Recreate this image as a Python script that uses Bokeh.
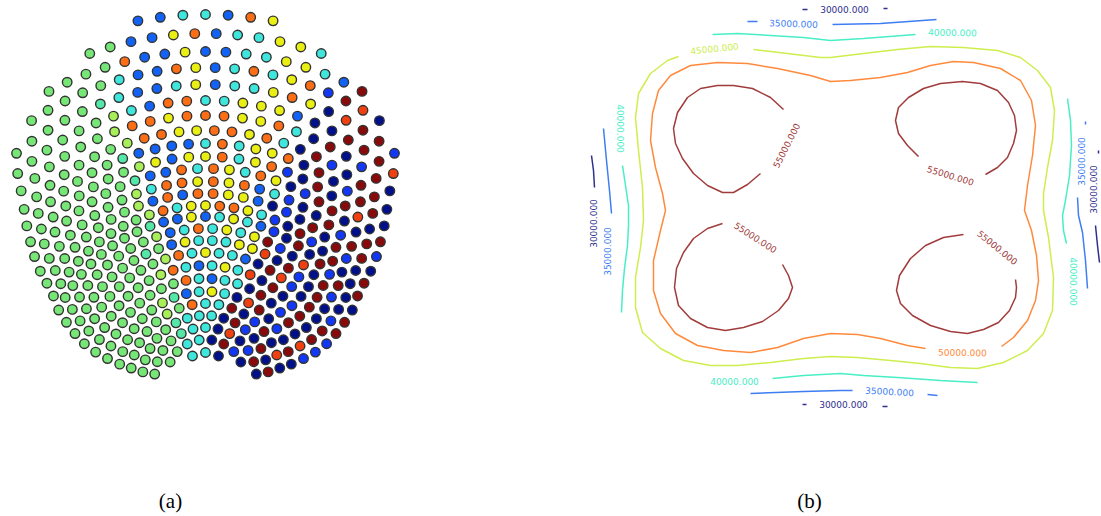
import math
from bokeh.plotting import figure
from bokeh.models import Range1d, ColumnDataSource
from bokeh.core.properties import value
from bokeh.embed import file_html
from bokeh.resources import INLINE

# ---------------- panel (a): fan of coloured nodes ----------------
FAN_CENTRE_X = 205
FAN_CENTRE_Y = 378
RING_RADIUS = [364, 345, 327, 311, 294, 278, 263, 248, 235, 222, 210, 197, 185,
               173, 162, 150, 138, 126, 113, 100, 87, 75, 63, 51, 39, 26]
RING_HALF_SPAN = [10.7, 19.6, 28.6, 34, 40, 42.5, 44.5, 47, 49.5, 52, 54.5, 57, 59,
                  61.5, 65, 68, 71, 74, 76.5, 78.5, 80.5, 82, 84, 85, 65, 30]
RING_COLOURS = [
    "bbccboy",
    "ggbbyobccyyc",
    "ggggobbybbccyycbr",
    "gggggcbboybcocyoBrRn",
    "gggggtcbbcybccyoynRrrB",
    "ggggggGcbooccyyybnnrrrR",
    "ggggggGooyoooyyocnrnBrn",
    "gggggggGooyyooyocnrBnrrn",
    "gggggggtbbbbcocyyonrnBrrn",
    "ggggggggGybyyocyoBnrnrRnr",
    "ggggggggtbbocoycoynBrrnnrB",
    "ggggggggGcooyoyobcBnnrBrrn",
    "ggggggggGbobooyybnBnrnrBnr",
    "gggggggggGocyyooycBnrBnrnnr",
    "gggggggggtbbybcycbBnrnrBrnn",
    "gggggggggGbcocycyrBnRnrBnr",
    "ggggggggtgbycccyyRnrBnrnBr",
    "gggggggggGocyccbnrRBnrnrB",
    "ggggggggGocbcycRnrnBrnrB",
    "gggggggggocbccnrnBrnRB",
    "ggggggGtbcycnRrnBnrn",
    "gggggGgoccrnBrnRn",
    "gggggtcccnrBnrnr",
    "ggggtccnRnBrn",
    "ggccnrBn",
    "ccn",
]
COLOUR_CODES = {
    "g": "#76e676", "G": "#a8ee58", "t": "#54e8a8", "c": "#3ee6dc",
    "b": "#1262f5", "y": "#e9ef12", "o": "#fb6e16", "n": "#00108a",
    "B": "#1238f5", "r": "#880a0a", "R": "#f04010",
}

# ---------------- panel (b): contour lines ----------------
LEVELS = [55000, 50000, 45000, 40000, 35000, 30000]
LEVEL_COLOURS = ["#a13c3c", "#ff8a3d", "#cdee4e", "#48eec6", "#3e7ef2", "#2f2f8e"]

CONTOUR_55000 = [
    [(783, 109), (770, 97), (752, 88), (733, 85), (717, 85), (700, 88), (687, 97), (677, 112),
     (673, 128), (675, 143), (682, 158), (693, 173), (707, 185), (722, 192), (733, 192),
     (747, 184), (760, 173)],
    [(918, 156), (907, 145), (898, 133), (895, 120), (898, 107), (908, 97), (923, 88), (940, 83),
     (962, 81), (980, 83), (997, 90), (1008, 102), (1014, 115), (1016, 130), (1013, 143),
     (1007, 157), (997, 167), (985, 174)],
    [(722, 223), (707, 228), (693, 238), (683, 252), (676, 268), (674, 287), (678, 305),
     (690, 318), (707, 327), (725, 330), (743, 327), (762, 321), (778, 310), (788, 298),
     (792, 287), (788, 275), (782, 264)],
    [(963, 234), (943, 237), (925, 245), (910, 258), (899, 275), (896, 290), (900, 303),
     (912, 315), (930, 325), (950, 331), (967, 333), (983, 329), (998, 322), (1009, 310),
     (1015, 297), (1016, 287), (1015, 279)],
]
CONTOUR_50000 = [
    [(1001, 346), (1013, 337), (1027, 320), (1035, 300), (1038, 280), (1036, 255), (1031, 230),
     (1024, 210), (1027, 185), (1032, 155), (1035, 125), (1031, 100), (1020, 80), (1000, 68),
     (973, 62), (953, 61), (930, 65), (907, 72), (880, 77), (850, 80), (830, 81), (810, 75),
     (777, 68), (747, 63), (717, 62), (690, 65), (670, 75), (658, 90), (652, 113), (650, 140),
     (655, 167), (662, 193), (665, 210), (660, 230), (653, 260), (653, 290), (660, 313),
     (675, 333), (697, 345), (723, 350), (750, 352), (777, 347), (803, 338), (830, 333),
     (857, 334), (880, 338), (907, 345), (925, 348)],
]
CONTOUR_45000 = [
    [(753, 49), (787, 53), (820, 57), (830, 57), (863, 53), (897, 49), (930, 46), (963, 47),
     (997, 50), (1020, 57), (1037, 70), (1050, 87), (1054, 110), (1052, 140), (1047, 167),
     (1043, 193), (1043, 210), (1048, 237), (1053, 277), (1052, 310), (1043, 333), (1027, 350),
     (1003, 362), (977, 368), (950, 367), (920, 363), (890, 360), (857, 357), (830, 356),
     (803, 358), (770, 362), (737, 365), (710, 365), (683, 360), (660, 348), (642, 332),
     (635, 307), (635, 277), (640, 247), (643, 220), (642, 187), (638, 150), (635, 117),
     (638, 93), (650, 73), (667, 60), (678, 56)],
]
CONTOUR_40000 = [
    [(712, 34), (737, 33), (770, 35), (803, 37), (830, 40), (863, 38), (915, 34)],
    [(1067, 98), (1070, 120), (1071, 145), (1069, 175), (1065, 200), (1062, 215), (1063, 230),
     (1066, 243)],
    [(772, 378), (803, 375), (840, 373), (863, 375), (897, 377), (940, 380), (977, 382)],
    [(622, 165), (625, 185), (628, 205), (628, 225), (627, 245), (624, 268), (622, 290),
     (621, 312)],
]
CONTOUR_35000 = [
    [(747, 21), (757, 21)],
    [(832, 24), (880, 23), (936, 19)],
    [(603, 128), (606, 160), (609, 190), (611, 213)],
    [(1077, 197), (1078, 215), (1082, 232), (1085, 260), (1087, 288)],
    [(1085, 121), (1085, 124)],
    [(750, 393), (803, 391), (840, 390), (852, 390)],
    [(927, 394), (937, 395)],
]
CONTOUR_30000 = [
    [(802, 9), (807, 9)],
    [(883, 8), (887, 8)],
    [(591, 155), (593, 170), (594, 187)],
    [(1095, 225), (1097, 245), (1099, 262)],
    [(1098, 150), (1098, 153)],
    [(802, 404), (806, 404)],
    [(882, 406), (887, 406)],
]
CONTOURS = [CONTOUR_55000, CONTOUR_50000, CONTOUR_45000, CONTOUR_40000, CONTOUR_35000, CONTOUR_30000]

LABEL_LEVEL = [55000, 55000, 55000, 55000, 50000, 45000, 40000, 40000, 40000, 40000,
               35000, 35000, 35000, 35000, 30000, 30000, 30000, 30000]
LABEL_X = [786, 950, 755, 997, 962, 714, 952, 1073, 734, 620, 793, 607, 1081, 889, 844, 593, 1093, 843]
LABEL_Y = [145, 175, 237, 247, 352, 48, 32, 281, 381, 128, 23, 251, 161, 391, 9, 223, 189, 404]
LABEL_ANGLE_DEG = [63, -17, -33, -39, -1, 6, -1, -90, 0, -90, -2, 90, 90, -3, 0, 90, 90, 0]

CAPTIONS = ["(a)", "(b)"]
CAPTION_X = [170, 809]
CAPTION_Y = [500, 500]

# ---------------- build ----------------
p = figure(width=1101, height=516, x_range=Range1d(0, 1101), y_range=Range1d(516, 0),
           output_backend="svg", toolbar_location=None, x_axis_type=None, y_axis_type=None,
           min_border=0, outline_line_color=None, background_fill_color="white",
           border_fill_color="white")

px, py, pc = [], [], []
for r, half, cols in zip(RING_RADIUS, RING_HALF_SPAN, RING_COLOURS):
    n = len(cols)
    for i, ch in enumerate(cols):
        th = math.radians(-half + (2 * half * i / (n - 1) if n > 1 else 0.0))
        px.append(FAN_CENTRE_X + r * math.sin(th))
        py.append(FAN_CENTRE_Y - r * math.cos(th))
        pc.append(COLOUR_CODES[ch])
p.scatter(x=px, y=py, size=9.5, fill_color=pc, line_color="#333333", line_width=1.4)

for level, colour, segs in zip(LEVELS, LEVEL_COLOURS, CONTOURS):
    xs = [[pt[0] for pt in s] for s in segs]
    ys = [[pt[1] for pt in s] for s in segs]
    p.multi_line(xs=xs, ys=ys, line_color=colour, line_width=1.5)

lab_col = {lv: c for lv, c in zip(LEVELS, LEVEL_COLOURS)}
src = ColumnDataSource(dict(
    x=LABEL_X, y=LABEL_Y,
    text=["%d.000" % lv for lv in LABEL_LEVEL],
    angle=[math.radians(a) for a in LABEL_ANGLE_DEG],
    color=[lab_col[lv] for lv in LABEL_LEVEL],
))
p.text(x="x", y="y", text="text", angle="angle", text_color="color", source=src,
       text_font=value("DejaVu Sans"), text_font_size=value("9px"),
       text_align="center", text_baseline="middle")

p.text(x=CAPTION_X, y=CAPTION_Y, text=CAPTIONS, text_color="black",
       text_font=value("Liberation Serif"), text_font_size=value("21px"),
       text_align="center", text_baseline="middle")

open("out.html", "w").write(file_html(p, INLINE))
